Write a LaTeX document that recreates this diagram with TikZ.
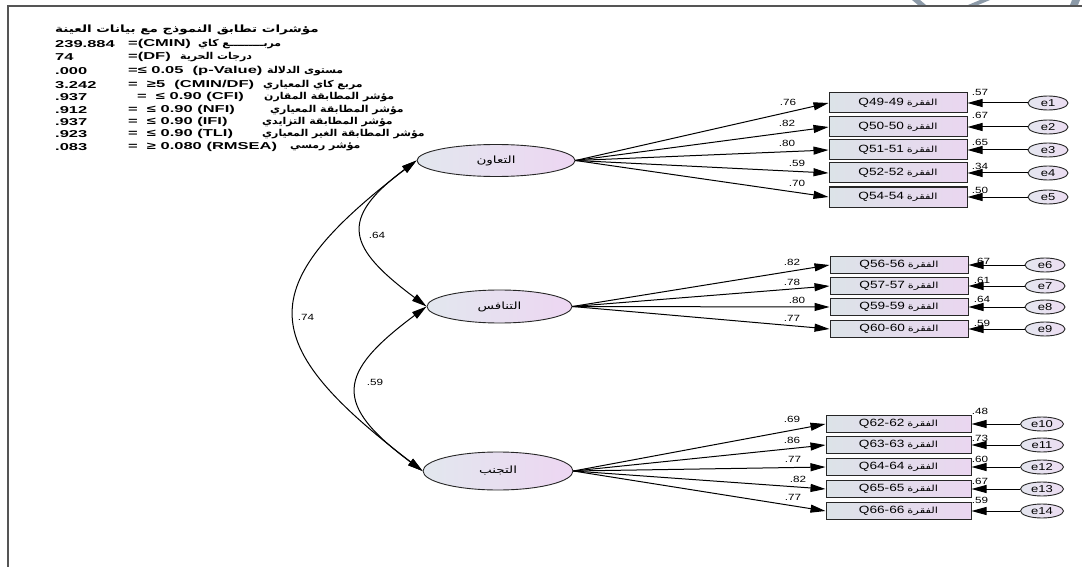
\documentclass[tikz,border=0pt]{standalone}
\usepackage{fontspec}
\setmainfont{Liberation Sans}
\newfontfamily\arabicfont[Script=Arabic]{DejaVu Sans}
\newfontfamily\arabicwide[Script=Arabic,FakeStretch=1.35]{DejaVu Sans}
\newfontfamily\arabicmid[Script=Arabic,FakeStretch=1.15]{DejaVu Sans}
\newfontfamily\hdrfont[FakeStretch=1.65]{Liberation Sans}
\newfontfamily\labfont[FakeStretch=1.3]{Liberation Sans}
\TeXXeTstate=1
\usetikzlibrary{arrows.meta,shapes.geometric}
\newcommand{\artext}[1]{\beginR #1\endR}
\newcommand{\itemlbl}[1]{{\labfont\fontsize{10.5}{12}\selectfont Q#1}\hspace{3pt}{\arabicwide\fontsize{8.5}{9}\selectfont\beginR الفقرة\endR}}
\definecolor{latL}{HTML}{E2E7EE}
\definecolor{latR}{HTML}{EDD6F2}
\definecolor{boxL}{HTML}{DCE3E8}
\definecolor{boxR}{HTML}{EAD6F0}
\definecolor{errL}{HTML}{E4E6EF}
\definecolor{errR}{HTML}{ECDDF2}
\definecolor{frameC}{HTML}{555555}
\definecolor{markC}{HTML}{8C9AA8}
\tikzset{
  latent/.style={ellipse, draw=black!85, line width=0.9pt, left color=latL, right color=latR,
    inner sep=0pt, font=\arabicwide\fontsize{10}{11}\selectfont},
  obs/.style={rectangle, draw=black!85, line width=1pt, left color=boxL, right color=boxR,
    inner sep=0pt, minimum width=138pt, minimum height=20pt},
  errv/.style={ellipse, draw=black!85, line width=0.9pt, left color=errL, right color=errR,
    inner sep=0pt, minimum width=40pt, minimum height=14pt, font=\labfont\fontsize{10}{11}\selectfont},
  arr/.style={-{Triangle[length=15pt,width=8pt]}, line width=1pt},
  cov/.style={{Triangle[length=15pt,width=8pt]}-{Triangle[length=15pt,width=8pt]}, line width=1pt},
  lab/.style={inner sep=0pt, font=\labfont\fontsize{9}{10}\selectfont},
  hnum/.style={anchor=west, inner sep=0pt, font=\hdrfont\bfseries\fontsize{10}{11}\selectfont},
  harab/.style={anchor=west, inner sep=0pt, font=\arabicmid\bfseries\fontsize{9.5}{10}\selectfont},
  htitle/.style={anchor=west, inner sep=0pt, font=\arabicwide\bfseries\fontsize{10}{11}\selectfont}
}
\begin{document}
\begin{tikzpicture}[x=1pt,y=-1pt]
\useasboundingbox (0,0) rectangle (1082,567);

% frame and the marks above it
\fill[markC] (912,0) -- (920,0) -- (926,5) -- (918,5) -- cycle;
\fill[markC] (968,5) -- (980,0) -- (990,0) -- (978,5) -- cycle;
\fill[markC] (1072,0) -- (1080,0) -- (1078,5) -- (1070,5) -- cycle;
\draw[frameC, line width=1.6pt] (8,567) -- (8,6) -- (1082,6);

% fit indices
\node[htitle] (t1) at (55,30) {\artext{مؤشرات تطابق النموذج مع بيانات العينة}};
\node[hnum] (v2) at (55,44) {239.884};
\node[hnum] (c2) at (128,44) {=(CMIN)};
\node[harab] (a2) at (198,44) {\artext{مربـــــــــع كاي}};
\node[hnum] (v3) at (55,57) {74};
\node[hnum] (c3) at (128,57) {=(DF)};
\node[harab] (a3) at (180,57) {\artext{درجات الحرية}};
\node[hnum] (v4) at (55,71) {.000};
\node[hnum] (c4) at (128,71) {=≤ 0.05~~(p-Value)};
\node[harab] (a4) at (267,71) {\artext{مستوى الدلالة}};
\node[hnum] (v5) at (55,85) {3.242};
\node[hnum] (c5) at (128,85) {=~~≥5~~(CMIN/DF)};
\node[harab] (a5) at (263,85) {\artext{مربع كاي المعياري}};
\node[hnum] (v6) at (55,97) {.937};
\node[hnum] (c6) at (137,97) {=~~≤ 0.90 (CFI)};
\node[harab] (a6) at (264,97) {\artext{مؤشر المطابقة المقارن}};
\node[hnum] (v7) at (55,110) {.912};
\node[hnum] (c7) at (128,110) {=~~≤ 0.90 (NFI)};
\node[harab] (a7) at (270,110) {\artext{مؤشر المطابقة المعياري}};
\node[hnum] (v8) at (55,122) {.937};
\node[hnum] (c8) at (128,122) {=~~≤ 0.90 (IFI)};
\node[harab] (a8) at (262,122) {\artext{مؤشر المطابقة التزايدي}};
\node[hnum] (v9) at (55,134) {.923};
\node[hnum] (c9) at (128,134) {=~~≤ 0.90 (TLI)};
\node[harab] (a9) at (262,134) {\artext{مؤشر المطابقة الغير المعياري}};
\node[hnum] (v10) at (55,147) {.083};
\node[hnum] (c10) at (128,147) {=~~≥ 0.080 (RMSEA)};
\node[harab] (a10) at (290,147) {\artext{مؤشر رمسي}};

% latent factors
\node[latent, minimum width=158pt, minimum height=32pt] (F1) at (496,160.5) {\artext{التعاون}};
\node[latent, minimum width=145pt, minimum height=33pt] (F2) at (499.5,306.5) {\artext{التنافس}};
\node[latent, minimum width=150pt, minimum height=38pt] (F3) at (498,471) {\artext{التجنب}};

% observed items, first factor
\node[obs] (b1) at (898,103) {\itemlbl{49-49}};
\node[obs] (b2) at (898,127) {\itemlbl{50-50}};
\node[obs] (b3) at (898,150) {\itemlbl{51-51}};
\node[obs] (b4) at (898,173) {\itemlbl{52-52}};
\node[obs] (b5) at (898,197) {\itemlbl{54-54}};
% second factor
\node[obs, minimum height=17pt] (b6) at (899,265) {\itemlbl{56-56}};
\node[obs, minimum height=17pt] (b7) at (899,286) {\itemlbl{57-57}};
\node[obs, minimum height=17pt] (b8) at (899,307) {\itemlbl{59-59}};
\node[obs, minimum height=17pt] (b9) at (899,329) {\itemlbl{60-60}};
% third factor
\node[obs, minimum width=145pt, minimum height=17pt] (b10) at (898.5,424) {\itemlbl{62-62}};
\node[obs, minimum width=145pt, minimum height=17pt] (b11) at (898.5,445) {\itemlbl{63-63}};
\node[obs, minimum width=145pt, minimum height=17pt] (b12) at (898.5,467) {\itemlbl{64-64}};
\node[obs, minimum width=145pt, minimum height=17pt] (b13) at (898.5,489) {\itemlbl{65-65}};
\node[obs, minimum width=145pt, minimum height=17pt] (b14) at (898.5,511) {\itemlbl{66-66}};

% error terms
\node[errv] (e1) at (1048,103) {e1};
\node[errv] (e2) at (1048,127) {e2};
\node[errv] (e3) at (1048,150) {e3};
\node[errv] (e4) at (1048,173) {e4};
\node[errv] (e5) at (1048,197) {e5};
\node[errv] (e6) at (1045,265) {e6};
\node[errv] (e7) at (1045,286) {e7};
\node[errv] (e8) at (1045,307) {e8};
\node[errv] (e9) at (1045,329) {e9};
\node[errv, minimum width=43pt] (e10) at (1042,424) {e10};
\node[errv, minimum width=43pt] (e11) at (1042,445) {e11};
\node[errv, minimum width=43pt] (e12) at (1042,467) {e12};
\node[errv, minimum width=43pt] (e13) at (1042,489) {e13};
\node[errv, minimum width=43pt] (e14) at (1042,511) {e14};

% loadings
\foreach \b in {b1,b2,b3,b4,b5} \draw[arr] (F1.east) -- (\b.west);
\foreach \b in {b6,b7,b8,b9} \draw[arr] (F2.east) -- (\b.west);
\foreach \b in {b10,b11,b12,b13,b14} \draw[arr] (F3.east) -- (\b.west);

% error paths
\foreach \i in {1,...,14} \draw[arr] (e\i.west) -- (b\i.east);

% factor correlations
\draw[cov] (F1.west) .. controls +(-79,59) and +(-79,-59) .. (F2.west);
\draw[cov] (F2.west) .. controls +(-90,67) and +(-90,-67) .. (F3.west);
\draw[cov] (F1.west) .. controls +(-166,127) and +(-166,-127) .. (F3.west);
\node[lab] (r12) at (377,235) {.64};
\node[lab] (r13) at (306,317) {.74};
\node[lab] (r23) at (375,382) {.59};

% standardized loadings
\node[lab] (l1) at (788,102) {.76};
\node[lab] (l2) at (787,123) {.82};
\node[lab] (l3) at (787,143) {.80};
\node[lab] (l4) at (797,163) {.59};
\node[lab] (l5) at (797,183) {.70};
\node[lab] (l6) at (792,262) {.82};
\node[lab] (l7) at (792,282) {.78};
\node[lab] (l8) at (797,300) {.80};
\node[lab] (l9) at (792,318) {.77};
\node[lab] (l10) at (792,419) {.69};
\node[lab] (l11) at (792,440) {.86};
\node[lab] (l12) at (793,459) {.77};
\node[lab] (l13) at (798,479) {.82};
\node[lab] (l14) at (793,497) {.77};

% squared multiple correlations
\node[lab] (s1) at (980,92) {.57};
\node[lab] (s2) at (980,115) {.67};
\node[lab] (s3) at (980,142) {.65};
\node[lab] (s4) at (980,166) {.34};
\node[lab] (s5) at (980,190) {.50};
\node[lab] (s6) at (982,261) {.67};
\node[lab] (s7) at (982,280) {.61};
\node[lab] (s8) at (982,299) {.64};
\node[lab] (s9) at (982,323) {.59};
\node[lab] (s10) at (980,411) {.48};
\node[lab] (s11) at (980,438) {.73};
\node[lab] (s12) at (980,459) {.60};
\node[lab] (s13) at (980,481) {.67};
\node[lab] (s14) at (980,500) {.59};
\end{tikzpicture}
\end{document}
